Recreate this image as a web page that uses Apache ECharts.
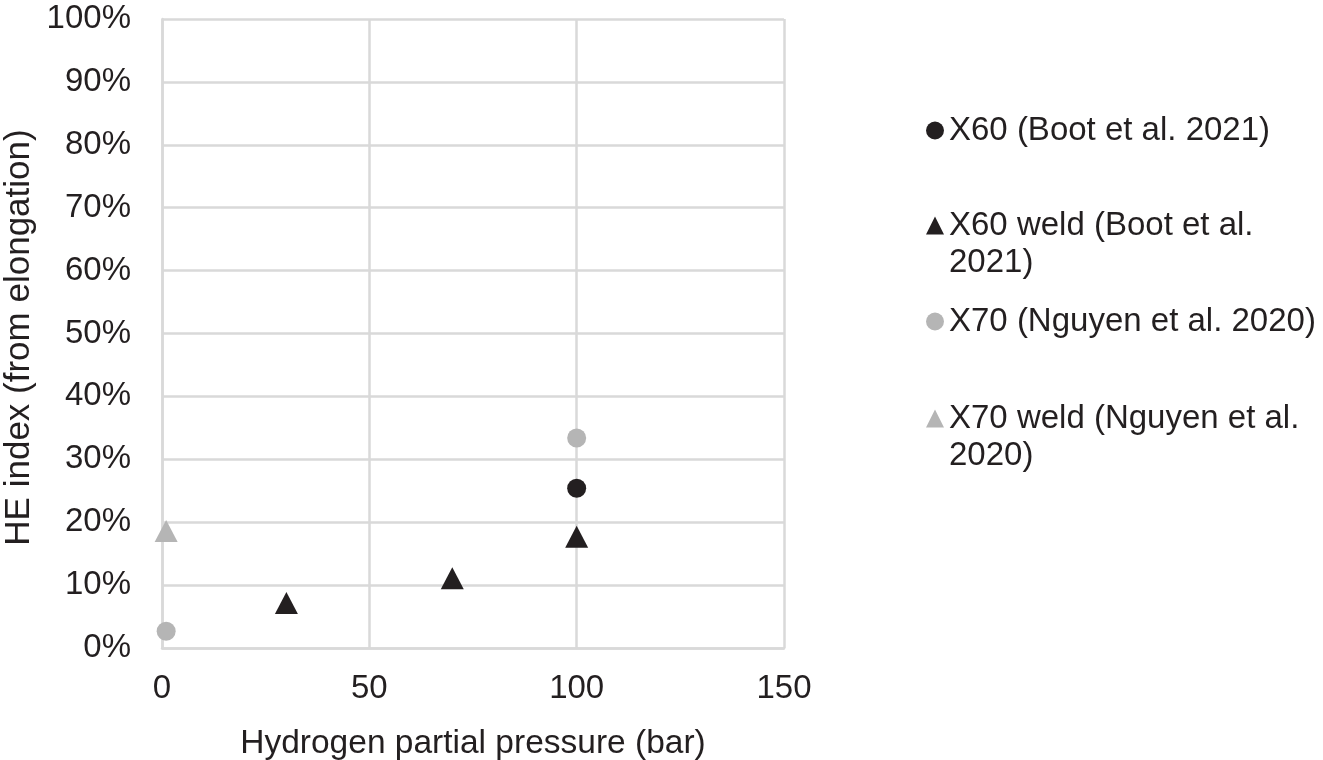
<!DOCTYPE html>
<html><head><meta charset="utf-8">
<script src="https://cdn.jsdelivr.net/npm/echarts@6/dist/echarts.min.js"></script>
<style>html,body{margin:0;padding:0;background:#fff}#c{width:1323px;height:760px}</style>
</head><body><div id="c"></div>
<script>
const seriesNames = ['X60 (Boot et al. 2021)', 'X60 weld (Boot et al. 2021)', 'X70 (Nguyen et al. 2020)', 'X70 weld (Nguyen et al. 2020)'];
const legendLines = [['X60 (Boot et al. 2021)'], ['X60 weld (Boot et al.', '2021)'], ['X70 (Nguyen et al. 2020)'], ['X70 weld (Nguyen et al.', '2020)']];
const x60 = [[100, 25.4]];
const x60weld = [[30, 7.15], [70, 11.1], [100, 17.7]];
const x70 = [[1, 2.65], [100, 33.4]];
const x70weld = [[1, 18.6]];
const xTicks = [0, 50, 100, 150];
const yTicks = [0, 10, 20, 30, 40, 50, 60, 70, 80, 90, 100];

const FONT = '"Liberation Sans", Arial, sans-serif';
const FS = 33;
const LH = 37;
const TXT = '#231f20';
const BLACK = '#231f20';
const GRAY = '#b5b5b5';
const GRID = '#d9d9d9';

const chart = echarts.init(document.getElementById('c'), null, {renderer: 'canvas'});
const legendTops = [107, 165, 298, 358];
const legendShapes = ['circle', 'triangle', 'circle', 'triangle'];
const legendColors = [BLACK, BLACK, GRAY, GRAY];
const legends = seriesNames.map((n, i) => {
  const lines = legendLines[i];
  const fmt = lines.length > 1
    ? '{e| }\n' + lines.map(l => '{a|' + l + '}').join('\n')
    : '{a|' + lines[0] + '}';
  return {
    top: legendTops[i], left: 921, orient: 'vertical',
    data: [{name: n, icon: legendShapes[i], itemStyle: {color: legendColors[i], opacity: 1}}],
    itemWidth: 18, itemHeight: 18, itemGap: 0,
    formatter: () => fmt,
    selectedMode: false,
    textStyle: {
      fontFamily: FONT, fontSize: FS, color: TXT, lineHeight: LH,
      rich: {
        a: {fontFamily: FONT, fontSize: FS, color: TXT, lineHeight: LH},
        e: {fontFamily: FONT, fontSize: FS, color: TXT, lineHeight: LH}
      }
    }
  };
});

chart.setOption({
  animation: false,
  backgroundColor: '#fff',
  grid: {left: 162, right: 539, top: 19, bottom: 112, containLabel: false, outerBoundsMode: 'none'},
  legend: legends,
  xAxis: {
    type: 'value', min: 0, max: 150, interval: 50,
    name: 'Hydrogen partial pressure (bar)', nameLocation: 'middle', nameGap: 79,
    nameTextStyle: {fontFamily: FONT, fontSize: 33.5, color: TXT, verticalAlign: 'top'},
    axisLine: {show: true, lineStyle: {color: GRID, width: 2.5}},
    axisTick: {show: false},
    splitLine: {show: true, lineStyle: {color: GRID, width: 2.5}},
    axisLabel: {fontFamily: FONT, fontSize: FS, color: TXT, margin: 24,
      formatter: v => xTicks.includes(v) ? String(v) : ''}
  },
  yAxis: {
    type: 'value', min: 0, max: 100, interval: 10,
    name: 'HE index (from elongation)', nameLocation: 'middle', nameGap: 125,
    nameTextStyle: {fontFamily: FONT, fontSize: 35, color: TXT, padding: [0, 8, 0, 0]},
    axisLine: {show: true, lineStyle: {color: GRID, width: 2.5}},
    axisTick: {show: false},
    splitLine: {show: true, lineStyle: {color: GRID, width: 2.5}},
    axisLabel: {fontFamily: FONT, fontSize: FS, color: TXT, margin: 31,
      formatter: v => yTicks.includes(v) ? v + '%' : ''}
  },
  series: [
    {name: seriesNames[0], type: 'scatter', data: x60, symbol: 'circle', symbolSize: 19, itemStyle: {color: BLACK, opacity: 1}},
    {name: seriesNames[1], type: 'scatter', data: x60weld, symbol: 'triangle', symbolSize: [23, 22], itemStyle: {color: BLACK, opacity: 1}},
    {name: seriesNames[2], type: 'scatter', data: x70, symbol: 'circle', symbolSize: 19, itemStyle: {color: GRAY, opacity: 1}},
    {name: seriesNames[3], type: 'scatter', data: x70weld, symbol: 'triangle', symbolSize: [23, 22], itemStyle: {color: GRAY, opacity: 1}}
  ]
});
</script></body></html>
